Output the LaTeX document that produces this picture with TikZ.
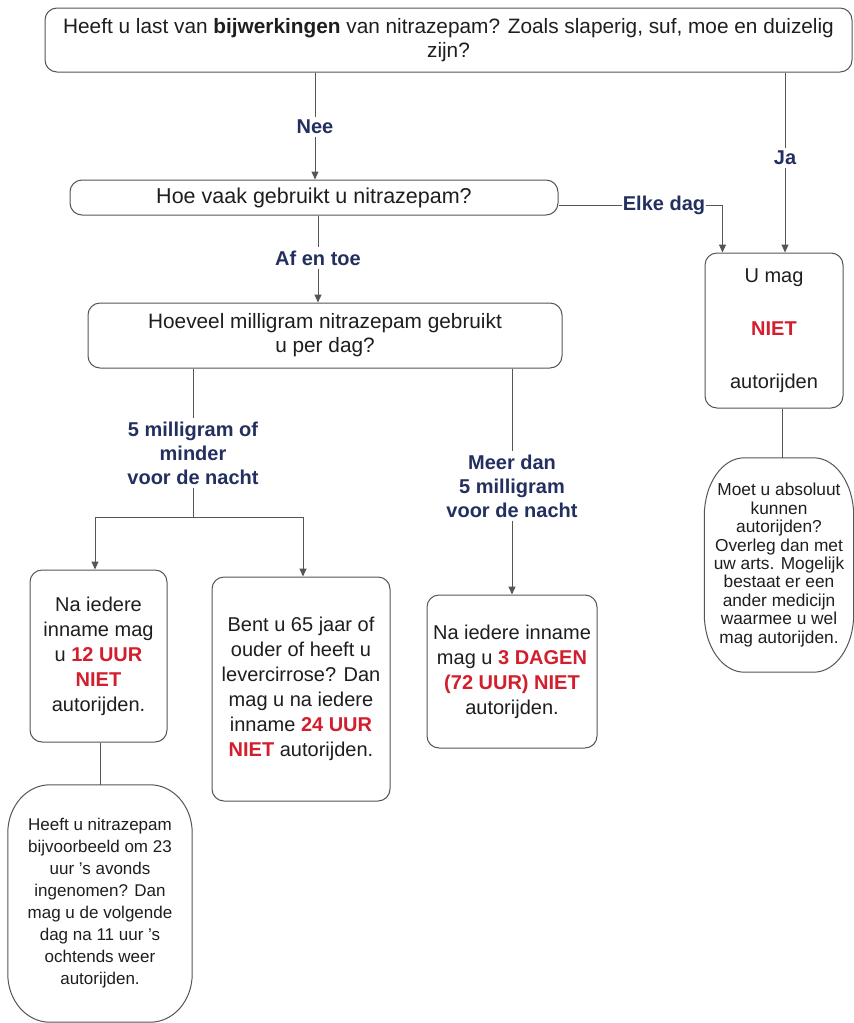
\documentclass[tikz,border=0pt]{standalone}
\usepackage{fontspec}
\setmainfont{Liberation Sans}
\usetikzlibrary{arrows.meta,calc}
\definecolor{lbl}{RGB}{35,48,95}
\definecolor{warn}{RGB}{210,30,45}
\definecolor{txt}{RGB}{30,30,30}
\definecolor{edge}{RGB}{85,85,85}
\newcommand{\rd}[1]{\textcolor{warn}{\textbf{#1}}}
\begin{document}
\begin{tikzpicture}[x=1pt,y=-1pt,
  box/.style={draw=edge, line width=1pt, rounded corners=12pt, fill=white, text=txt, align=center, inner sep=0pt},
  words/.style={text=txt, align=center, inner sep=0pt},
  lab/.style={fill=white, text=lbl, font=\fontsize{20}{24}\selectfont\bfseries, align=center, inner sep=3pt},
  con/.style={draw=edge, line width=1pt},
  arr/.style={con, -{Triangle[width=7pt,length=8pt]}},
  big/.style={font=\fontsize{20.8}{24}\selectfont},
  mid/.style={font=\fontsize{20}{25}\selectfont}]
\useasboundingbox[fill=white] (0,0) rectangle (854,1023);

% boxes
\node[box,big,minimum width=807pt,minimum height=64pt] (top) at (448.5,40)
  {Heeft u last van \textbf{bijwerkingen} van nitrazepam? Zoals slaperig, suf, moe en duizelig\\zijn?};
\node[box,font=\fontsize{21.5}{24}\selectfont,minimum width=488pt,minimum height=35pt] (hoe) at (314,197.5)
  {Hoe vaak gebruikt u nitrazepam?};
\node[box,big,minimum width=474pt,minimum height=65pt] (hv) at (325,335.5)
  {Hoeveel milligram nitrazepam gebruikt\\u per dag?};
\node[box,mid,minimum width=138pt,minimum height=155pt] (umag) at (774,330.5)
  {U mag\\[28pt]\rd{NIET}\\[28pt]autorijden};
\node[box,mid,minimum width=137pt,minimum height=172pt] (b12) at (98.5,656)
  {Na iedere\\inname mag\\u \rd{12 UUR}\\\rd{NIET}\\autorijden.};
\node[box,mid,minimum width=178pt,minimum height=224pt] (b24) at (301,689)
  {Bent u 65 jaar of\\ouder of heeft u\\levercirrose? Dan\\mag u na iedere\\inname \rd{24 UUR}\\\rd{NIET} autorijden.};
\node[box,mid,minimum width=170pt,minimum height=153pt] (b3) at (512,671.5)
  {Na iedere inname\\mag u \rd{3 DAGEN}\\\rd{(72 UUR) NIET}\\autorijden.};

% oval-cornered boxes
\node[words,font=\fontsize{17.3}{18.4}\selectfont,minimum width=149pt,minimum height=214pt] (moet) at (779,565)
  {Moet u absoluut\\kunnen\\autorijden?\\Overleg dan met\\uw arts. Mogelijk\\bestaat er een\\ander medicijn\\waarmee u wel\\mag autorijden.};
\draw[con] ($(moet.north west)+(40,0)$) -- ($(moet.north east)+(-40,0)$)
  arc[start angle=270,end angle=360,x radius=40,y radius=58]
  -- ($(moet.south east)+(0,-58)$)
  arc[start angle=0,end angle=90,x radius=40,y radius=58]
  -- ($(moet.south west)+(40,0)$)
  arc[start angle=90,end angle=180,x radius=40,y radius=58]
  -- ($(moet.north west)+(0,58)$)
  arc[start angle=180,end angle=270,x radius=40,y radius=58] -- cycle;
\node[words,font=\fontsize{17}{22}\selectfont,minimum width=184pt,minimum height=237pt] (heeft) at (100,903.5)
  {Heeft u nitrazepam\\bijvoorbeeld om 23\\uur 's avonds\\ingenomen? Dan\\mag u de volgende\\dag na 11 uur 's\\ochtends weer\\autorijden.};
\draw[con] ($(heeft.north west)+(42,0)$) -- ($(heeft.north east)+(-42,0)$)
  arc[start angle=270,end angle=360,x radius=42,y radius=48]
  -- ($(heeft.south east)+(0,-48)$)
  arc[start angle=0,end angle=90,x radius=42,y radius=48]
  -- ($(heeft.south west)+(42,0)$)
  arc[start angle=90,end angle=180,x radius=42,y radius=48]
  -- ($(heeft.north west)+(0,48)$)
  arc[start angle=180,end angle=270,x radius=42,y radius=48] -- cycle;

% labels
\node[lab] (nee) at (315,127) {Nee};
\node[lab] (ja) at (785,158) {Ja};
\node[lab,inner xsep=1pt] (elke) at (664,205) {Elke dag};
\node[lab] (af) at (318,258) {Af en toe};
\node[lab] (vijf) at (193,453) {5 milligram of\\minder\\voor de nacht};
\node[lab] (meer) at (512,486) {Meer dan\\5 milligram\\voor de nacht};
\coordinate (split) at (193,517);

% connectors
\draw[con] (top.south -| nee) -- (nee.north);
\draw[arr] (nee.south) -- (hoe.north -| nee);
\draw[con] (top.south -| ja) -- (ja.north);
\draw[arr] (ja.south) -- (umag.north -| ja);
\draw[con] (hoe.east |- elke) -- (elke.west);
\draw[arr] (elke.east) -| ($(umag.north west)+(18,0)$);
\draw[con] (hoe.south -| af) -- (af.north);
\draw[arr] (af.south) -- (hv.north -| af);
\draw[con] (hv.south -| vijf) -- (vijf.north);
\draw[con] (vijf.south) -- (split);
\draw[arr] (split) -| (b12.north -| 95,0);
\draw[arr] (split) -| (b24.north -| 303,0);
\draw[con] (hv.south -| meer) -- (meer.north);
\draw[arr] (meer.south) -- (b3.north -| meer);
\draw[con] (umag.south -| 782,0) -- (moet.north -| 782,0);
\draw[con] (b12.south -| 100,0) -- (heeft.north -| 100,0);
\end{tikzpicture}
\end{document}
